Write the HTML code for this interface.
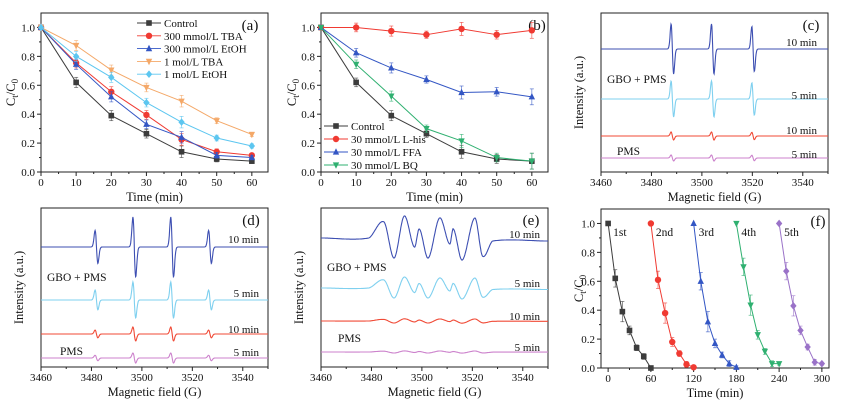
<!DOCTYPE html>
<html><head><meta charset="utf-8">
<style>
html,body{margin:0;padding:0;background:#fff;}
svg{display:block;font-family:"Liberation Serif",serif;}
</style></head>
<body>
<svg id="fig" width="846" height="406" viewBox="0 0 846 406" xmlns="http://www.w3.org/2000/svg"></svg>
<script>
// ---------- data ----------
const timeA = [0,10,20,30,40,50,60];
const aControl = [1,0.62,0.39,0.265,0.14,0.09,0.075];
const aTBA300 = [1,0.755,0.555,0.395,0.225,0.14,0.115];
const aEtOH300 = [1,0.745,0.52,0.33,0.24,0.115,0.10];
const aTBA1 = [1,0.875,0.705,0.585,0.49,0.355,0.26];
const aEtOH1 = [1,0.80,0.655,0.48,0.345,0.235,0.18];
const aErr = [0,0.035,0.035,0.03,0.04,0.02,0.015];
const aLabels = ["Control","300 mmol/L  TBA","300 mmol/L  EtOH","1 mol/L  TBA","1 mol/L  EtOH"];

const bControl = [1,0.62,0.39,0.265,0.14,0.09,0.075];
const bLhis = [1,1,0.975,0.95,0.99,0.95,0.98];
const bFFA = [1,0.825,0.72,0.64,0.55,0.555,0.52];
const bBQ = [1,0.745,0.525,0.30,0.215,0.10,0.075];
const bErr = [0,0.03,0.035,0.025,0.045,0.03,0.055];
const bLabels = ["Control","30 mmol/L  L-his","30 mmol/L  FFA","30 mmol/L  BQ"];

const fTime1 = [0,10,20,30,40,50,60];
const fC1 = [1,0.62,0.39,0.26,0.14,0.08,0.0];
const fTime2 = [60,70,80,90,100,110,120];
const fC2 = [1,0.61,0.38,0.18,0.10,0.025,0.005];
const fTime3 = [120,130,140,150,160,170,180];
const fC3 = [1,0.60,0.32,0.17,0.09,0.03,0.005];
const fTime4 = [180,190,200,210,220,230,240];
const fC4 = [1,0.70,0.435,0.23,0.115,0.03,0.03];
const fTime5 = [240,250,260,270,280,290,300];
const fC5 = [1,0.67,0.43,0.26,0.145,0.04,0.03];
const fLabels = ["1st","2nd","3rd","4th","5th"];

// EPR (c): TEMP triplet
const cCenters = [3488.3,3504.3,3520.3];
const cRel = [1,1,0.9];
const cAmp = [25,18,4,3];
// EPR (d): DMPO-OH quartet
const dCenters = [3482,3497,3512,3527];
const dRel = [0.55,1,1,0.55];
const dAmp = [30,18,7,5];
// EPR (e): multiplet extrema
const eField = [3460,3479,3485,3489,3493,3497,3499,3502.5,3507,3511,3512.5,3516,3521,3524,3528,3550];
const eShape = [0,0,0.8,-1,1.1,-0.45,0.45,-1,1,-0.3,0.45,-1.1,1,-0.9,-0.15,-0.15];
const eAmp = [20,10,2,1];
const eprNames = ["10 min","5 min","10 min","5 min"];

// ---------- helpers ----------
const NS = "http://www.w3.org/2000/svg";
const svg = document.getElementById('fig');
function mk(tag, attrs, parent){
  const el = document.createElementNS(NS, tag);
  for (const k in attrs) el.setAttribute(k, attrs[k]);
  (parent||svg).appendChild(el);
  return el;
}
function txt(s, x, y, size, anchor, parent){
  const t = mk('text', {x:x, y:y, 'font-size':size, 'text-anchor':anchor||'start', fill:'#111'}, parent);
  t.textContent = s;
  return t;
}
function makeAxes(o){
  const g = mk('g', {});
  
  
  const sx = v => o.px0 + (v - o.xmin) / (o.xmax - o.xmin) * (o.px1 - o.px0);
  const sy = v => o.py1 - (v - o.ymin) / (o.ymax - o.ymin) * (o.py1 - o.py0);
  const fr = mk('rect', {x:o.px0, y:o.py0, width:o.px1-o.px0, height:o.py1-o.py0, fill:'none', stroke:'#222', 'stroke-width':1}, g);
  
  
  o.xticks.forEach(v => {
    mk('line', {x1:sx(v), x2:sx(v), y1:o.py1, y2:o.py1+4, stroke:'#222'}, g);
    const t = txt(String(v), sx(v), o.py1+14, 11, 'middle', g);
    
    
  });
  (o.xminor||[]).forEach(v => mk('line', {x1:sx(v), x2:sx(v), y1:o.py1, y2:o.py1+2, stroke:'#222'}, g));
  if (o.yticks){
    o.yticks.forEach(v => {
      mk('line', {x1:o.px0-4, x2:o.px0, y1:sy(v), y2:sy(v), stroke:'#222'}, g);
      const t = txt(v.toFixed(1), o.px0-6, sy(v)+4, 11, 'end', g);
      
      
    });
    (o.yminor||[]).forEach(v => mk('line', {x1:o.px0-2, x2:o.px0, y1:sy(v), y2:sy(v), stroke:'#222'}, g));
  }
  const xt = txt(o.xtitle, (o.px0+o.px1)/2, o.py1+29, 12.5, 'middle', g);
  
  
  const yt = mk('text', {x:0, y:0, 'font-size':12.5, 'text-anchor':'middle', fill:'#111', transform:`translate(${o.ytx},${(o.py0+o.py1)/2}) rotate(-90)`}, g);
  
  
  if (o.ytitle === 'C'){
    yt.innerHTML = 'C<tspan font-size="9" dy="3">t</tspan><tspan dy="-3">/C</tspan><tspan font-size="9" dy="3">0</tspan>';
  } else yt.textContent = o.ytitle;
  const pl = txt(o.tag, o.tagx, o.py0+17, 15, 'middle', g);
  
  
  return {sx, sy, g};
}
function marker(type, x, y, color, g){
  const r = 3.2;
  let el;
  if (type==='square') el = mk('rect', {x:x-r+0.4, y:y-r+0.4, width:2*r-0.8, height:2*r-0.8, fill:color}, g);
  else if (type==='circle') el = mk('circle', {cx:x, cy:y, r:r, fill:color}, g);
  else if (type==='up') el = mk('polygon', {points:`${x},${y-r-0.6} ${x-r},${y+r-0.6} ${x+r},${y+r-0.6}`, fill:color}, g);
  else if (type==='down') el = mk('polygon', {points:`${x},${y+r+0.6} ${x-r},${y-r+0.6} ${x+r},${y-r+0.6}`, fill:color}, g);
  else el = mk('polygon', {points:`${x},${y-r-0.6} ${x+r},${y} ${x},${y+r+0.6} ${x-r},${y}`, fill:color}, g);
  
  
}
function series(ax, xs, ys, err, color, mtype, name){
  const g = mk('g', {});
  
  
  const pts = xs.map((x,i)=>ax.sx(x)+','+ax.sy(ys[i])).join(' ');
  mk('polyline', {points:pts, fill:'none', stroke:color, 'stroke-width':1}, g);
  if (err) xs.forEach((x,i)=>{
    if (!err[i]) return;
    const X = ax.sx(x);
    mk('line', {x1:X, x2:X, y1:ax.sy(ys[i]-err[i]), y2:ax.sy(ys[i]+err[i]), stroke:color, 'stroke-width':0.7, opacity:0.8}, g);
    mk('line', {x1:X-2, x2:X+2, y1:ax.sy(ys[i]-err[i]), y2:ax.sy(ys[i]-err[i]), stroke:color, 'stroke-width':0.7, opacity:0.8}, g);
    mk('line', {x1:X-2, x2:X+2, y1:ax.sy(ys[i]+err[i]), y2:ax.sy(ys[i]+err[i]), stroke:color, 'stroke-width':0.7, opacity:0.8}, g);
  });
  xs.forEach((x,i)=>marker(mtype, ax.sx(x), ax.sy(ys[i]), color, g));
}
function legend(x, y0, dy, labels, colors, types, name){
  const g = mk('g', {});
  
  
  labels.forEach((l,i)=>{
    const y = y0 + i*dy;
    mk('line', {x1:x, x2:x+24, y1:y, y2:y, stroke:colors[i], 'stroke-width':0.9}, g);
    marker(types[i], x+12, y, colors[i], g);
    const t = txt(l, x+27, y+4, 11, 'start', g);
    
    
  });
}

const cols5 = ['#3c3c3c','#f03a32','#3356c4','#f4a868','#5cc6f0'];
const types5 = ['square','circle','up','down','diamond'];
const yT = [0,0.2,0.4,0.6,0.8,1.0], yM = [0.1,0.3,0.5,0.7,0.9];

// ---------- (a) ----------
const axA = makeAxes({name:'panel-a', px0:41, px1:268, py0:13, py1:172, xmin:0, xmax:64.6, ymin:0, ymax:1.1,
  xticks:[0,10,20,30,40,50,60], xminor:[5,15,25,35,45,55], yticks:yT, yminor:yM,
  xtitle:'Time (min)', ytitle:'C', ytx:15, tag:'(a)', tagx:250});
[aControl,aTBA300,aEtOH300,aTBA1,aEtOH1].forEach((s,i)=>series(axA, timeA, s, aErr, cols5[i], types5[i], 'series-a-'+i));
legend(137, 23, 12.8, aLabels, cols5, types5, 'legend-a');

// ---------- (b) ----------
const colsB = ['#3c3c3c','#f03a32','#3356c4','#2fb070'];
const typesB = ['square','circle','up','down'];
const axB = makeAxes({name:'panel-b', px0:321, px1:548, py0:13, py1:172, xmin:0, xmax:64.6, ymin:0, ymax:1.1,
  xticks:[0,10,20,30,40,50,60], xminor:[5,15,25,35,45,55], yticks:yT, yminor:yM,
  xtitle:'Time (min)', ytitle:'C', ytx:296, tag:'(b)', tagx:537});
[bControl,bLhis,bFFA,bBQ].forEach((s,i)=>series(axB, timeA, s, bErr, colsB[i], typesB[i], 'series-b-'+i));
legend(324, 126, 13, bLabels, colsB, typesB, 'legend-b');

// ---------- EPR ----------
const eprCols = ['#3d4fb2','#7fd0ef','#f04a36','#cc82cc'];
function deriv(x, centers, rel, w){
  let y = 0;
  centers.forEach((c,i)=>{ const d=(x-c)/w; y += rel[i] * (-d) * Math.exp(0.5 - d*d/2); });
  return y;
}
function catmull(xs, ys, x){
  let i = 0; while (i < xs.length-2 && x > xs[i+1]) i++;
  const p0=ys[Math.max(i-1,0)], p1=ys[i], p2=ys[i+1], p3=ys[Math.min(i+2,ys.length-1)];
  const t=(x-xs[i])/(xs[i+1]-xs[i]);
  return 0.5*((2*p1)+(-p0+p2)*t+(2*p0-5*p1+4*p2-p3)*t*t+(-p0+3*p1-3*p2+p3)*t*t*t);
}
function eprPanel(o){
  const ax = makeAxes({name:o.name, px0:o.px0, px1:o.px0+227, py0:o.py0, py1:o.py0+159, xmin:3460, xmax:3550, ymin:0, ymax:1,
    xticks:[3460,3480,3500,3520,3540], xminor:[3470,3490,3510,3530,3550], yticks:null,
    xtitle:'Magnetic field (G)', ytitle:'Intensity (a.u.)', ytx:o.px0-18, tag:o.tag, tagx:o.px0+210});
  o.base.forEach((b,k)=>{
    const g = mk('g', {});
    
    
    let pts = [];
    for (let f=3460; f<=3550.001; f+=0.15){
      const v = o.fn(f) * o.amp[k];
      pts.push(ax.sx(f).toFixed(1)+','+(b - v).toFixed(1));
    }
    mk('polyline', {points:pts.join(' '), fill:'none', stroke:eprCols[k], 'stroke-width':1.1}, g);
    const t = txt(eprNames[k], o.labx[k], o.laby[k], 11, 'end', g);
    
    
  });
  const t1 = txt('GBO + PMS', o.px0+6, o.gboY, 11.5, 'start', ax.g);
   
  const t2 = txt('PMS', o.px0+o.pmsDx, o.pmsY, 11.5, 'start', ax.g);
   
}
eprPanel({name:'panel-c', px0:601, py0:13, tag:'(c)', base:[49,99,136,158], amp:cAmp,
  fn:f=>deriv(f,cCenters,cRel,0.5), labx:[817,817,817,817], laby:[46,99,134,158], gboY:83, pmsY:155, pmsDx:16});
eprPanel({name:'panel-d', px0:41, py0:208, tag:'(d)', base:[247,300,334,358], amp:dAmp,
  fn:f=>deriv(f,dCenters,dRel,0.55), labx:[259,259,259,259], laby:[243,297,333,356], gboY:281, pmsY:355, pmsDx:19});
eprPanel({name:'panel-e', px0:321, py0:208, tag:'(e)', base:[238,288,321,352], amp:eAmp,
  fn:f=>catmull(eField,eShape,f), labx:[540,540,540,540], laby:[238,287,320,351], gboY:271, pmsY:342, pmsDx:17});

// ---------- (f) ----------
const colsF = ['#3c3c3c','#f03a32','#3356c4','#2fb070','#9a72c8'];
const typesF = ['square','circle','up','down','diamond'];
const axF = makeAxes({name:'panel-f', px0:601, px1:829, py0:209, py1:368, xmin:-10, xmax:310, ymin:0, ymax:1.1,
  xticks:[0,60,120,180,240,300], xminor:[30,90,150,210,270], yticks:yT, yminor:yM,
  xtitle:'Time (min)', ytitle:'C', ytx:583, tag:'(f)', tagx:818});
const fErr = [0,0.06,0.07,0.03,0.02,0.02,0.01];
[[fTime1,fC1],[fTime2,fC2],[fTime3,fC3],[fTime4,fC4],[fTime5,fC5]].forEach((s,i)=>{
  series(axF, s[0], s[1], fErr, colsF[i], typesF[i], 'series-f-'+i);
  const t = txt(fLabels[i], axF.sx(s[0][0])+5, 236, 11.5, 'start');
  
  
});
</script>
</body></html>
